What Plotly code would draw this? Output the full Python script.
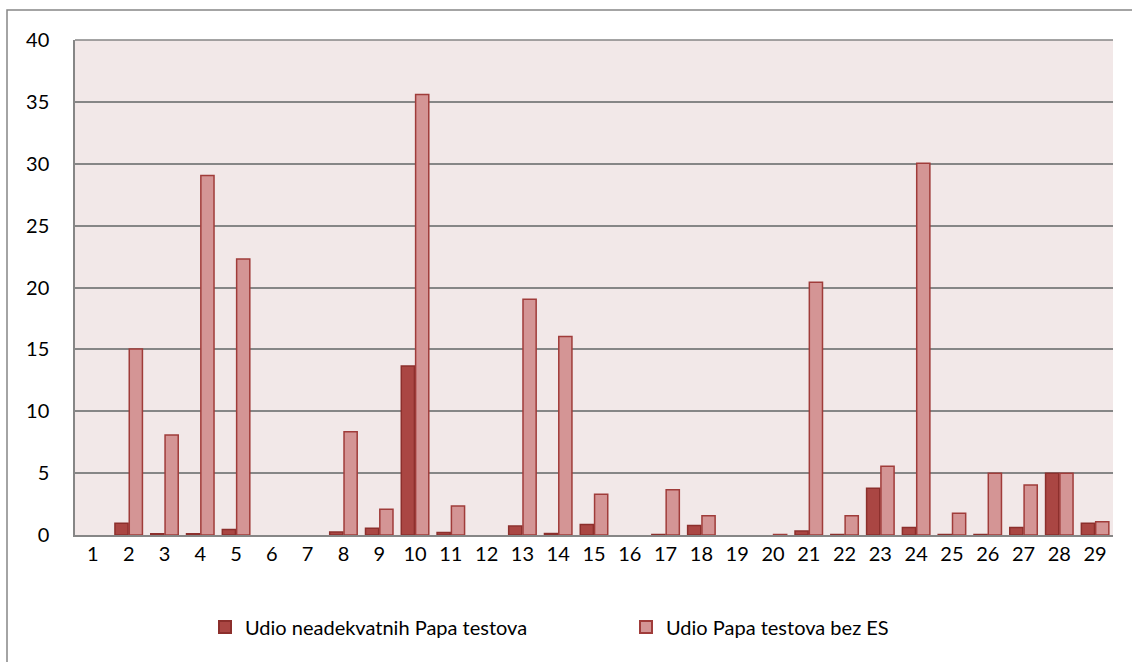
import plotly.graph_objects as go

categories = [str(i) for i in range(1, 30)]
neadekvatni = [0, 0.95, 0.1, 0.1, 0.45, 0, 0, 0.24, 0.55, 13.65, 0.2, 0, 0.72, 0.12, 0.85,
               0, 0.04, 0.77, 0, 0, 0.32, 0.04, 3.77, 0.6, 0.04, 0.04, 0.6, 5.0, 0.95]
bez_es = [0, 15.03, 8.08, 29.05, 22.3, 0, 0, 8.35, 2.08, 35.6, 2.34, 0, 19.05, 16.05, 3.29,
          0, 3.66, 1.56, 0, 0.04, 20.42, 1.56, 5.55, 30.05, 1.75, 5.0, 4.04, 5.0, 1.08]
series_names = ["Udio neadekvatnih Papa testova", "Udio Papa testova bez ES"]
y_ticks = [0, 5, 10, 15, 20, 25, 30, 35, 40]


def outline_widths(vals):
    return [1.5 if v > 0.02 else 0 for v in vals]


fig = go.Figure()
fig.add_trace(go.Bar(x=categories, y=neadekvatni, name=series_names[0],
                     marker=dict(color="#AA4643",
                                 line=dict(color="#8C2F2C", width=outline_widths(neadekvatni)))))
fig.add_trace(go.Bar(x=categories, y=bez_es, name=series_names[1],
                     marker=dict(color="#D49595",
                                 line=dict(color="#A03C3A", width=outline_widths(bez_es)))))

fig.update_layout(
    width=1132, height=662,
    margin=dict(l=75, r=19, t=40, b=127, autoexpand=False),
    paper_bgcolor="white",
    plot_bgcolor="#F2E8E8",
    barmode="group",
    bargap=0.2,
    bargroupgap=0.08,
    font=dict(family="Lato, 'Open Sans', sans-serif", size=20, color="black"),
    showlegend=True,
    legend=dict(orientation="h", x=(205 - 75) / 1038, xanchor="left", y=-92 / 495,
                yanchor="middle", font=dict(size=20), itemsizing="constant",
                itemwidth=30, entrywidth=376, traceorder="normal"),
    xaxis=dict(type="category", showline=True, linecolor="#868686", linewidth=2,
               showgrid=False, ticks="", ticklabelstandoff=0, automargin=False),
    yaxis=dict(range=[0, 40], tickvals=y_ticks, showgrid=True, gridcolor="#868686",
               gridwidth=1.5, showline=True, linecolor="#868686", linewidth=1.5,
               zeroline=False, ticks="", ticklabelstandoff=20, automargin=False),
    shapes=[
        dict(type="rect", xref="paper", yref="paper",
             x0=-68 / 1038, x1=1.2, y0=-0.5, y1=1 + 30 / 495,
             line=dict(color="#868686", width=1.5), fillcolor="rgba(0,0,0,0)", layer="below"),
        dict(type="line", xref="paper", yref="paper", x0=0, x1=1, y0=1, y1=1,
             line=dict(color="#868686", width=1.5)),
    ],
)

fig.write_html("out.html", config={"displayModeBar": False},
               post_script="document.body.style.margin='0';")
